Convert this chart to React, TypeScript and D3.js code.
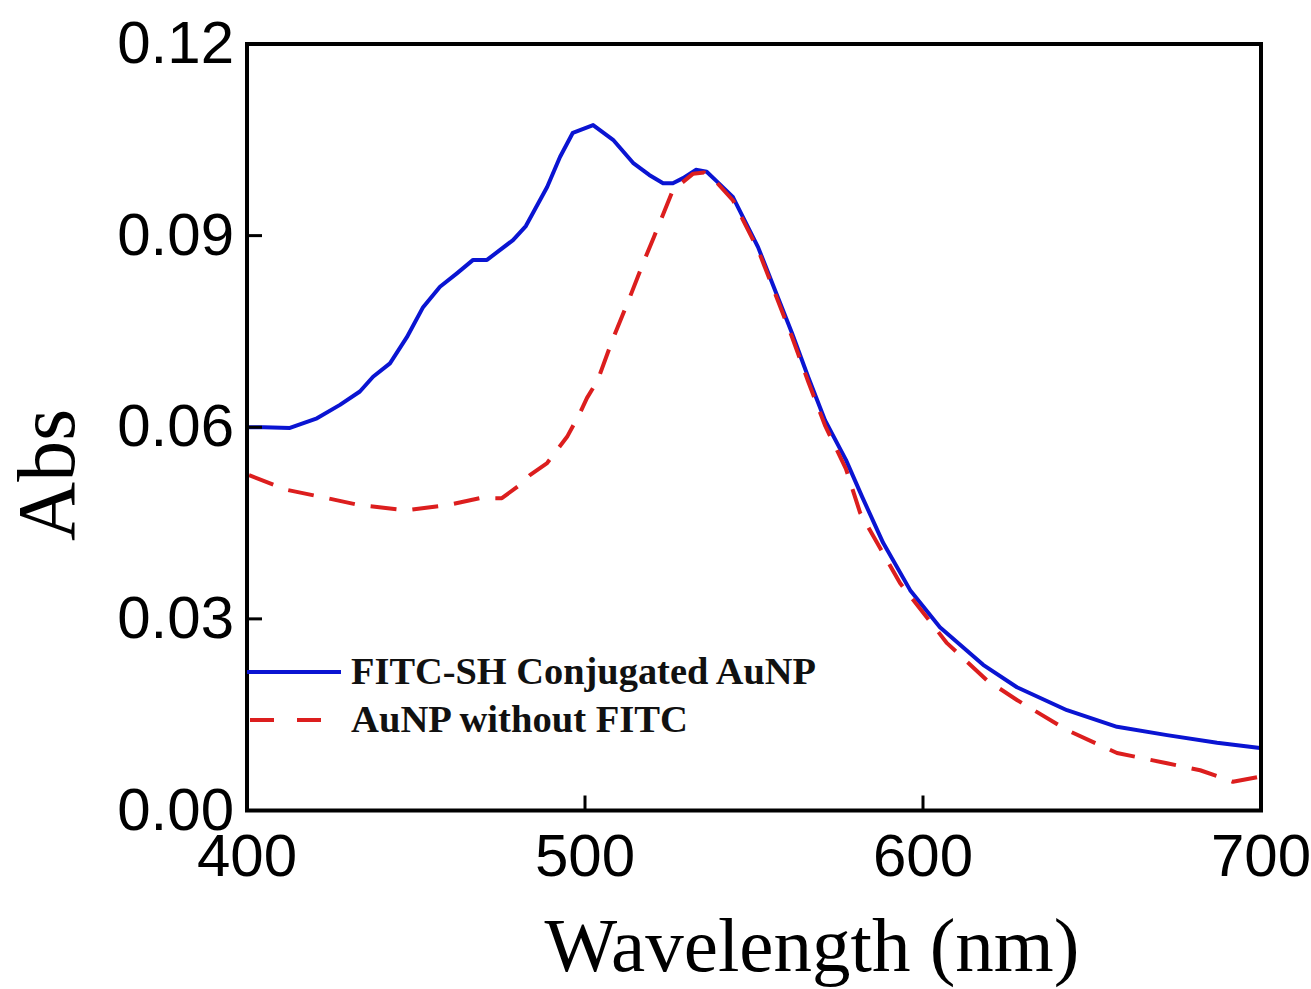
import React from "react";
import * as d3 from "d3";

const blueWl = [400, 405, 412.7, 420.7, 427.5, 433.4, 437.3, 442.3, 447.3, 452.1, 457.1, 462.1, 466.9, 471, 478.7, 482.5, 488.8, 492.6, 496.4, 502.4, 508.3, 514.2, 519, 523.1, 526, 529, 532.8, 536, 539, 543.8, 551.2, 556.2, 561.2, 566, 571, 577.2, 582, 588.2, 596.2, 605, 617.8, 627.8, 642.6, 657.4, 672.2, 687, 699.7];
const blueAbs = [0.0600, 0.0600, 0.0599, 0.0614, 0.0635, 0.0656, 0.0679, 0.0700, 0.0741, 0.0788, 0.0820, 0.0841, 0.0862, 0.0862, 0.0893, 0.0915, 0.0976, 0.1023, 0.1061, 0.1073, 0.1050, 0.1014, 0.0995, 0.0982, 0.0982, 0.0990, 0.1003, 0.1000, 0.0985, 0.0960, 0.0882, 0.0815, 0.0748, 0.0679, 0.0611, 0.0549, 0.0491, 0.0419, 0.0345, 0.0287, 0.0228, 0.0193, 0.0157, 0.0131, 0.0118, 0.0106, 0.0098];

const redWl = [400.6, 411.8, 423.7, 433.4, 447.3, 459.2, 468.9, 475.4, 480.8, 483.7, 488.8, 494.7, 498.5, 500.6, 503.8, 508, 513.3, 517.2, 520.4, 526, 532, 535.2, 539, 543.8, 551.2, 556.2, 561.2, 566, 571, 577.2, 581.4, 593.2, 607.1, 618.9, 627.8, 642.6, 657.4, 672.2, 682, 691.7, 699.7];
const redAbs = [0.0525, 0.0502, 0.0489, 0.0478, 0.0470, 0.0478, 0.0489, 0.0489, 0.0510, 0.0525, 0.0544, 0.0585, 0.0622, 0.0646, 0.0674, 0.0735, 0.0804, 0.0857, 0.0898, 0.0971, 0.0997, 0.0999, 0.0983, 0.0955, 0.0878, 0.0810, 0.0742, 0.0672, 0.0603, 0.0535, 0.0466, 0.0356, 0.0262, 0.0204, 0.0173, 0.0126, 0.0090, 0.0074, 0.0063, 0.0045, 0.0053];

const xTicks = [400, 500, 600, 700];
const yTicks = [0, 0.03, 0.06, 0.09, 0.12];
const seriesNames = ["FITC-SH Conjugated AuNP", "AuNP without FITC"];

export default function App() {
  const left = 247, right = 1261, top = 44, bottom = 810.5;
  const x = d3.scaleLinear().domain([400, 700]).range([left, right]);
  const y = d3.scaleLinear().domain([0, 0.12]).range([bottom, top]);
  const line = d3.line<[number, number]>().x(d => x(d[0])).y(d => y(d[1])).curve(d3.curveLinear);
  const blue = blueWl.map((w, i) => [w, blueAbs[i]] as [number, number]);
  const red = redWl.map((w, i) => [w, redAbs[i]] as [number, number]);
  const sans = "'Liberation Sans', Arial, sans-serif";
  const serif = "'Liberation Serif', 'Times New Roman', serif";
  return (
    <svg width={1311} height={989} style={{ position: "absolute", left: 0, top: 0, background: "#fff" }}>
      <defs>
        <clipPath id="plotclip">
          <rect x={left} y={top} width={right - left} height={bottom - top} />
        </clipPath>
      </defs>
      <g clipPath="url(#plotclip)">
        <path d={line(blue) || ""} fill="none" stroke="#0a14d2" strokeWidth={4} strokeLinejoin="round" />
        <path d={line(red) || ""} fill="none" stroke="#dc1e1e" strokeWidth={4} strokeDasharray="26,16" strokeLinejoin="round" />
      </g>
      {xTicks.slice(1, -1).map(t => (
        <line key={"xt" + t} x1={x(t)} x2={x(t)} y1={bottom} y2={bottom - 15} stroke="#000" strokeWidth={3} />
      ))}
      {yTicks.slice(1, -1).map(t => (
        <line key={"yt" + t} x1={left} x2={left + 15} y1={y(t)} y2={y(t)} stroke="#000" strokeWidth={3} />
      ))}
      <rect x={left} y={top} width={right - left} height={bottom - top} fill="none" stroke="#000" strokeWidth={4} />
      {xTicks.map(t => (
        <text key={"xl" + t} x={x(t)} y={876} textAnchor="middle" fontFamily={sans} fontSize={60} fill="#000">{t}</text>
      ))}
      {yTicks.map(t => (
        <text key={"yl" + t} x={234} y={y(t) + 19} textAnchor="end" fontFamily={sans} fontSize={60} fill="#000">{d3.format(".2f")(t)}</text>
      ))}
      <text transform="translate(74,475) rotate(-90)" textAnchor="middle" fontFamily={serif} fontSize={82} fill="#000">Abs</text>
      <text x={812} y={971} textAnchor="middle" fontFamily={serif} fontSize={77} fill="#000">Wavelength (nm)</text>
      <line x1={left} x2={341} y1={672} y2={672} stroke="#0a14d2" strokeWidth={4} />
      <text x={351} y={684} fontFamily={serif} fontWeight="bold" fontSize={38} fill="#111" textLength={465} lengthAdjust="spacingAndGlyphs">{seriesNames[0]}</text>
      <line x1={250} x2={322} y1={720} y2={720} stroke="#dc1e1e" strokeWidth={4} strokeDasharray="24,23" />
      <text x={351} y={732} fontFamily={serif} fontWeight="bold" fontSize={38} fill="#111" textLength={337} lengthAdjust="spacingAndGlyphs">{seriesNames[1]}</text>
    </svg>
  );
}
